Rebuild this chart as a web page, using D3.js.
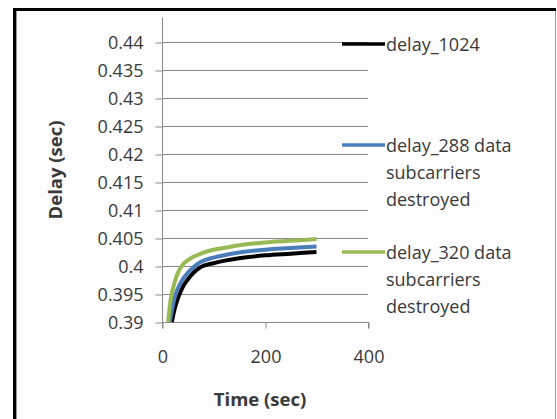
<!DOCTYPE html>
<html>
<head>
<meta charset="utf-8">
<script src="https://cdn.jsdelivr.net/npm/d3@7"></script>
<style>
  body { margin: 0; background: #fff; }
  svg text { font-family: "Open Sans", sans-serif; fill: #3a3a3a; }
</style>
</head>
<body>
<div class="chart"></div>
<script>
// time points (sec) and delay readings (sec) for each run
const time1024 = [19, 25, 30, 40, 50, 60, 75, 100, 125, 150, 200, 250, 300];
const delay1024 = [0.390, 0.3925, 0.3940, 0.3962, 0.3976, 0.3987, 0.3998, 0.4005, 0.4010, 0.4014, 0.4019, 0.4022, 0.4025];

const time288 = [15, 20, 25, 30, 40, 50, 60, 75, 100, 125, 150, 200, 250, 300];
const delay288 = [0.390, 0.3925, 0.3945, 0.3958, 0.3976, 0.3988, 0.3997, 0.4007, 0.4015, 0.4020, 0.4024, 0.4029, 0.4032, 0.4035];

const time320 = [12, 16, 20, 25, 30, 40, 50, 60, 75, 100, 125, 150, 200, 250, 300];
const delay320 = [0.390, 0.3935, 0.3955, 0.3972, 0.3986, 0.4002, 0.4010, 0.4016, 0.4022, 0.4029, 0.4033, 0.4037, 0.4042, 0.4045, 0.4048];

const seriesNames = [['delay_1024'], ['delay_288 data', 'subcarriers', 'destroyed'], ['delay_320 data', 'subcarriers', 'destroyed']];
const seriesColors = ['#000000', '#4a7ebb', '#98b954'];

const yTicks = [0.39, 0.395, 0.4, 0.405, 0.41, 0.415, 0.42, 0.425, 0.43, 0.435, 0.44];
const xTicks = [0, 200, 400];

const config = {
  width: 557,
  height: 419,
  left: 162,
  right: 368,
  top: 42,
  bottom: 322
};

const series = [
  { t: time1024, v: delay1024 },
  { t: time288, v: delay288 },
  { t: time320, v: delay320 }
].map((s, i) => ({
  points: s.t.map((t, j) => [t, s.v[j]]),
  name: seriesNames[i],
  color: seriesColors[i]
}));

const svg = d3.select('.chart')
  .append('svg')
  .attr('width', config.width)
  .attr('height', config.height);

// frame
svg.append('rect')
  .attr('x', 15)
  .attr('y', 10)
  .attr('width', 540)
  .attr('height', 420)
  .attr('fill', '#fdfdfd')
  .attr('stroke', 'none');
svg.append('line')
  .attr('x1', 13).attr('x2', 556).attr('y1', 9.5).attr('y2', 9.5)
  .attr('stroke', '#000').attr('stroke-width', 3);
svg.append('line')
  .attr('x1', 14.5).attr('x2', 14.5).attr('y1', 8).attr('y2', 419)
  .attr('stroke', '#000').attr('stroke-width', 3);
svg.append('line')
  .attr('x1', 16.5).attr('x2', 16.5).attr('y1', 11).attr('y2', 419)
  .attr('stroke', '#999').attr('stroke-width', 1);
svg.append('line')
  .attr('x1', 555.5).attr('x2', 555.5).attr('y1', 11).attr('y2', 419)
  .attr('stroke', '#999').attr('stroke-width', 1);

const x = d3.scaleLinear().domain([0, 400]).range([config.left, config.right]);
const y = d3.scaleLinear().domain([0.39, 0.44]).range([config.bottom, config.top]);

// gridlines
svg.append('g')
  .selectAll('line')
  .data(yTicks.slice(1))
  .enter()
  .append('line')
  .attr('x1', config.left)
  .attr('x2', config.right)
  .attr('y1', d => Math.round(y(d)) + 0.5)
  .attr('y2', d => Math.round(y(d)) + 0.5)
  .attr('stroke', '#8a8a8a')
  .attr('stroke-width', 1);

// y axis
const yAxis = svg.append('g')
  .attr('transform', `translate(${config.left + 0.5},0.5)`)
  .call(d3.axisLeft(y).tickValues(yTicks).tickFormat(d3.format('')).tickSize(7).tickPadding(12));
yAxis.select('.domain').remove();
yAxis.append('line')
  .attr('x1', 0).attr('x2', 0)
  .attr('y1', 17).attr('y2', config.bottom)
  .attr('stroke', '#8a8a8a');

// x axis
const xAxis = svg.append('g')
  .attr('transform', `translate(0.5,${config.bottom + 0.5})`)
  .call(d3.axisBottom(x).tickValues(xTicks).tickSize(6).tickPadding(22));
xAxis.select('.domain').attr('stroke', '#8a8a8a');

svg.selectAll('.tick line').attr('stroke', '#8a8a8a');
svg.selectAll('.tick text')
  .attr('font-size', 18)
  .style('font-family', '"Open Sans", sans-serif')
  .attr('fill', '#3a3a3a');
xAxis.selectAll('.domain').attr('d', `M${config.left},6V0H${config.right}V6`);

// axis titles
svg.append('text')
  .attr('x', 260)
  .attr('y', 406)
  .attr('text-anchor', 'middle')
  .attr('font-size', 18.5)
  .attr('font-weight', 'bold')
  .text('Time (sec)');

svg.append('text')
  .attr('transform', 'translate(62,170) rotate(-90)')
  .attr('text-anchor', 'middle')
  .attr('font-size', 18.5)
  .attr('font-weight', 'bold')
  .text('Delay (sec)');

// lines
const line = d3.line()
  .x(d => x(d[0]))
  .y(d => y(d[1]))
  .curve(d3.curveMonotoneX);

svg.append('g')
  .selectAll('path')
  .data(series)
  .enter()
  .append('path')
  .attr('d', d => line(d.points))
  .attr('fill', 'none')
  .attr('stroke', d => d.color)
  .attr('stroke-width', 4);

// legend
const legendY = [44, 145, 252];
svg.append('g')
  .selectAll('g')
  .data(series)
  .enter()
  .append('g')
  .attr('transform', (d, i) => `translate(342,${legendY[i]})`)
  .each(function (d) {
    const $g = d3.select(this);
    $g.append('line')
      .attr('x1', 0).attr('x2', 43)
      .attr('y1', 0).attr('y2', 0)
      .attr('stroke', d.color)
      .attr('stroke-width', 3.5);
    d.name.forEach((txt, k) => {
      $g.append('text')
        .attr('x', 44)
        .attr('y', 7 + k * 27)
        .attr('font-size', 18)
        .text(txt);
    });
  });
</script>
</body>
</html>
